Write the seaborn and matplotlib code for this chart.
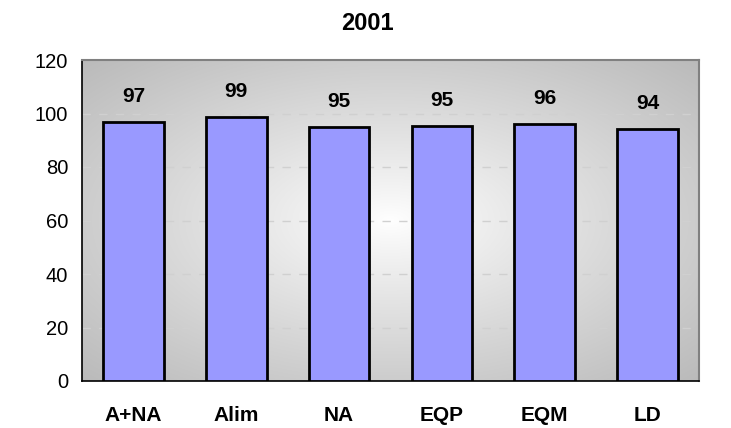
import numpy as np
import pandas as pd
import matplotlib
matplotlib.use("Agg")
import matplotlib.pyplot as plt
import seaborn as sns

categories = ["A+NA", "Alim", "NA", "EQP", "EQM", "LD"]
values = [96.9, 98.8, 95.1, 95.4, 95.9, 94.3]
title = "2001"
y_ticks = [0, 20, 40, 60, 80, 100, 120]

df = pd.DataFrame({"cat": categories, "val": values})

sns.set_style("white")
plt.rcParams["font.family"] = ["Liberation Sans", "DejaVu Sans"]
plt.rcParams["text.color"] = "black"
plt.rcParams["xtick.color"] = "black"
plt.rcParams["ytick.color"] = "black"

fig = plt.figure(figsize=(7.31, 4.28), dpi=100)
ax = fig.add_axes([82 / 731, 1 - 381 / 428, (699 - 82) / 731, (381 - 60) / 428])

# radial gradient backdrop: light centre fading to grey at the edges
nx, ny = 400, 240
xx, yy = np.meshgrid(np.linspace(-1, 1, nx), np.linspace(-1, 1, ny))
r = np.clip(np.sqrt(xx ** 2 + yy ** 2) / np.sqrt(2), 0, 1)
shade = 1.0 - 0.27 * r ** 0.9
rgb = np.dstack([shade, shade, shade])
ax.imshow(rgb, extent=[0, 1, 0, 1], transform=ax.transAxes, aspect="auto",
          zorder=0, interpolation="bilinear")

sns.barplot(data=df, x="cat", y="val", ax=ax, color="#9999FF", saturation=1,
            edgecolor="black", linewidth=2, width=0.59, zorder=3)

ax.set_ylim(0, 120)
ax.set_xlim(-0.5, len(categories) - 0.5)
ax.set_yticks(y_ticks)
ax.set_yticklabels([str(t) for t in y_ticks], fontsize=14.5)
for t in y_ticks[1:-1]:
    ax.axhline(t, color="#d0d0d0", lw=1, ls=(0, (6, 6)), zorder=1)

# category labels centred, tick marks on category boundaries
ax.set_xticks(np.arange(-0.5, len(categories)), minor=False)
ax.set_xticklabels([""] * (len(categories) + 1))
ax.set_xticks(np.arange(len(categories)), minor=True)
ax.set_xticklabels(categories, minor=True, fontsize=15, fontweight="bold")
ax.tick_params(axis="x", which="major", length=6, width=1, color="black", direction="out")
ax.tick_params(axis="x", which="minor", length=0, pad=18)
ax.tick_params(axis="y", length=6, width=1, color="black", direction="out", pad=4)
ax.set_xlabel("")
ax.set_ylabel("")

for s in ["left", "bottom"]:
    ax.spines[s].set_color("black")
    ax.spines[s].set_linewidth(1.2)
for s in ["top", "right"]:
    ax.spines[s].set_color("#808080")
    ax.spines[s].set_linewidth(1.5)

for i, v in enumerate(values):
    ax.text(i, v + 6, f"{v:.0f}", ha="center", va="bottom",
            fontsize=15, fontweight="bold", zorder=4)

fig.text(367 / 731, 1 - 24 / 428, title, ha="center", va="center",
         fontsize=17, fontweight="bold")

fig.savefig("out.png", dpi=100)
